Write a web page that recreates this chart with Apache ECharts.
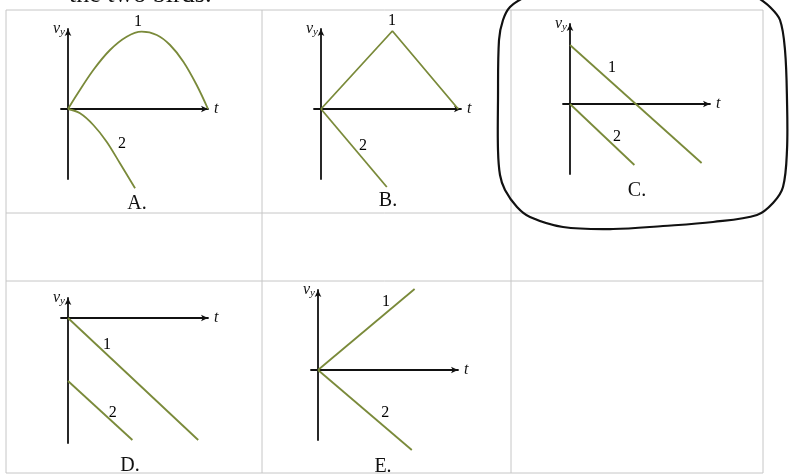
<!DOCTYPE html>
<html>
<head>
<meta charset="utf-8">
<script src="https://cdn.jsdelivr.net/npm/echarts@6/dist/echarts.min.js"></script>
<style>html,body{margin:0;padding:0;background:#fff;}#c{width:791px;height:476px;}</style>
</head>
<body>
<div id="c"></div>
<script>
// ---- data (t, v_y) ----
const panelNames = ['A.', 'B.', 'C.', 'D.', 'E.'];
const curveA1 = [[0,0],[0.62,1.4],[1.81,3.9],[3.0,5.9],[4.19,7.23],[5.26,7.73],[6.34,7.4],[7.29,6.4],[8.24,4.73],[9.19,2.4],[10.0,0]];
const curveA2 = [[0,0],[0.86,-0.43],[1.81,-1.6],[2.76,-3.27],[3.71,-5.43],[4.79,-7.93]];
const lineB1 = [[0,0],[5.1,7.8],[9.8,0]];
const lineB2 = [[0,0],[4.7,-7.8]];
const lineC1 = [[0,5.9],[9.4,-5.9]];
const lineC2 = [[0,0],[4.6,-6.1]];
const lineD1 = [[0,0],[9.3,-12.2]];
const lineD2 = [[0,-6.3],[4.6,-12.2]];
const lineE1 = [[0,0],[6.9,8.1]];
const lineE2 = [[0,0],[6.7,-8.0]];
const curveLabels = ['1', '2'];

const SERIF = '"Liberation Serif","DejaVu Serif",serif';
const GREEN = '#7a8a3a';
const INK = '#111';

const grids = [
  {left: 61,  top: 29,  width: 147, height: 150},
  {left: 314, top: 29,  width: 147, height: 150},
  {left: 563, top: 24,  width: 147, height: 150},
  {left: 61,  top: 298, width: 147, height: 145},
  {left: 311, top: 290, width: 147, height: 150}
];
const yRanges = [[-7, 8], [-7, 8], [-7, 8], [-12.5, 2], [-7, 8]];

const xAxes = grids.map((g, i) => ({
  type: 'value', gridIndex: i, min: -0.5, max: 10,
  splitLine: {show: false}, axisTick: {show: false}, axisLabel: {show: false},
  axisLine: {show: true, onZero: true, symbol: ['none', 'arrow'], symbolSize: [5, 7],
    lineStyle: {color: INK, width: 1.8}},
  name: 't', nameLocation: 'end', nameGap: 6,
  nameTextStyle: {fontFamily: SERIF, fontStyle: 'italic', fontSize: 16, color: INK, padding: [8, 0, 0, 0]}
}));
const yAxes = grids.map((g, i) => ({
  type: 'value', gridIndex: i, min: yRanges[i][0], max: yRanges[i][1],
  splitLine: {show: false}, axisTick: {show: false}, axisLabel: {show: false},
  axisLine: {show: true, onZero: true, symbol: ['none', 'arrow'], symbolSize: [5, 7],
    lineStyle: {color: INK, width: 1.8}},
  name: '{v|v}{s|y}', nameLocation: 'end', nameGap: 0,
  nameTextStyle: {align: 'right', verticalAlign: 'middle', padding: [0, 3, 0, 0],
    rich: {
      v: {fontFamily: SERIF, fontStyle: 'italic', fontSize: 16, color: INK},
      s: {fontFamily: SERIF, fontStyle: 'italic', fontSize: 11, color: INK, padding: [7, 0, 0, 0]}
    }}
}));

function curve(idx, data, smooth) {
  return {type: 'line', xAxisIndex: idx, yAxisIndex: idx, data: data, smooth: smooth || false,
    symbol: 'none', clip: false, silent: true,
    lineStyle: {color: GREEN, width: 1.8}};
}
function labels(idx, pts) {
  return {type: 'scatter', xAxisIndex: idx, yAxisIndex: idx, clip: false, silent: true,
    symbolSize: 1, itemStyle: {color: 'transparent'},
    data: pts,
    label: {show: true, position: 'inside', formatter: p => p.value[2],
      fontFamily: SERIF, fontSize: 16, color: '#000', opacity: 1,
      textBorderWidth: 0, textShadowBlur: 0}};
}

const series = [
  curve(0, curveA1, 0.35), curve(0, curveA2, 0.35),
  curve(1, lineB1), curve(1, lineB2),
  curve(2, lineC1), curve(2, lineC2),
  curve(3, lineD1), curve(3, lineD2),
  curve(4, lineE1), curve(4, lineE2),
  labels(0, [[5.0, 8.7, curveLabels[0]], [3.86, -3.5, curveLabels[1]]]),
  labels(1, [[5.07, 8.8, curveLabels[0]], [3.0, -3.7, curveLabels[1]]]),
  labels(2, [[3.0, 3.6, curveLabels[0]], [3.36, -3.3, curveLabels[1]]]),
  labels(3, [[2.79, -2.7, curveLabels[0]], [3.2, -9.5, curveLabels[1]]]),
  labels(4, [[4.86, 6.8, curveLabels[0]], [4.8, -4.3, curveLabels[1]]])
];

// table frame & annotation
const tableX = [6, 262, 511, 763];
const tableY = [10, 213, 281, 473];
const graphic = [];
tableY.forEach(y => graphic.push({type: 'line', silent: true,
  shape: {x1: tableX[0], y1: y, x2: tableX[3], y2: y}, style: {stroke: '#c6c6c6', lineWidth: 1}}));
tableX.forEach(x => graphic.push({type: 'line', silent: true,
  shape: {x1: x, y1: tableY[0], x2: x, y2: tableY[3]}, style: {stroke: '#c6c6c6', lineWidth: 1}}));
graphic.push({type: 'text', silent: true, style: {x: 69, y: -5, text: 'the two birds:',
  font: '26px ' + SERIF, fill: INK, textVerticalAlign: 'middle'}});
const captionPos = [[137, 204], [388, 201], [637, 191], [130, 466], [383, 467]];
panelNames.forEach((n, i) => graphic.push({type: 'text', silent: true,
  style: {x: captionPos[i][0], y: captionPos[i][1], text: n, font: '20px ' + SERIF, fill: INK,
    textAlign: 'center', textVerticalAlign: 'middle'}}));
graphic.push({type: 'polyline', silent: true, z: 10,
  shape: {smooth: 0.35, points: [[525,-3],[510,7],[503,20],[499,40],[498,100],[498,150],[500,175],[505,190],[517,207],[530,217],[563,227],[613,229],[663,226],[713,222],[757,215],[773,203],[783,187],[787,150],[787,100],[785,50],[780,20],[770,7],[757,-3]]},
  style: {stroke: '#111', lineWidth: 2.2, fill: null}});

const chart = echarts.init(document.getElementById('c'), null, {renderer: 'canvas'});
chart.setOption({
  backgroundColor: '#fff',
  animation: false,
  grid: grids,
  xAxis: xAxes,
  yAxis: yAxes,
  series: series,
  graphic: graphic
});
</script>
</body>
</html>
